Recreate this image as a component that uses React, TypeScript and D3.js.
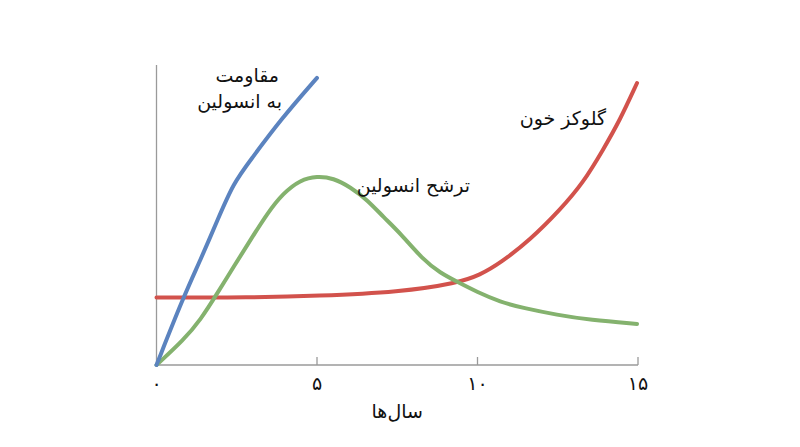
import { useEffect, useRef } from 'react';
import * as d3 from 'd3';

// years on x, arbitrary level 0..100 on y
const resistanceYears = [0, 0.84, 1.37, 1.9, 2.4, 2.93, 3.86, 5.0];
const resistanceValues = [0, 22.7, 35, 48.3, 60.7, 68.3, 81.7, 95.7];

const secretionYears = [0, 0.84, 1.37, 1.9, 2.4, 2.93, 3.46, 3.95, 4.48, 5.0, 5.51, 6.04, 6.57, 7.07, 7.59, 8.31, 8.84, 9.37, 9.99, 10.71, 11.42, 12.48, 13.51, 14.97];
const secretionValues = [0, 8.3, 15, 24, 32.7, 41.7, 50.7, 57.3, 61.7, 63, 62.3, 59.3, 55, 49.3, 44, 35, 30.7, 27.7, 24.3, 21, 19, 16.7, 15, 13.7];

const glucoseYears = [0, 2.93, 5.0, 7.59, 9.37, 10.08, 10.71, 11.64, 12.57, 13.29, 13.91, 14.44, 14.97];
const glucoseValues = [22.5, 22.5, 23, 24.3, 27.3, 30, 34, 41.7, 51.7, 60.7, 71.7, 81.7, 94];

const xTicks = [0, 5, 10, 15];
const xTickLabels = ['۰', '۵', '۱۰', '۱۵'];
const xTitle = 'سال‌ها';

const seriesLabels = {
  resistance: ['مقاومت', 'به انسولین'],
  secretion: 'ترشح انسولین',
  glucose: 'گلوکز خون',
};

const FONT = '"DejaVu Sans", sans-serif';

export default function App() {
  const svgRef = useRef<SVGSVGElement | null>(null);

  useEffect(() => {
    if (!svgRef.current) return;
    const svg = d3.select(svgRef.current);
    svg.selectAll('*').remove();

    const width = 800;
    const height = 447;

    const x = d3.scaleLinear().domain([0, 15]).range([156.5, 638]);
    const y = d3.scaleLinear().domain([0, 100]).range([365, 65]);

    svg.append('rect').attr('width', width).attr('height', height).attr('fill', '#fff');

    // axes
    const axisColor = '#9a9a9a';
    svg.append('line')
      .attr('x1', x(0)).attr('x2', x(0))
      .attr('y1', y(100)).attr('y2', y(0))
      .attr('stroke', axisColor).attr('stroke-width', 1.3);
    svg.append('line')
      .attr('x1', x(0)).attr('x2', x(15))
      .attr('y1', y(0)).attr('y2', y(0))
      .attr('stroke', axisColor).attr('stroke-width', 1.3);

    svg.append('g')
      .selectAll('line')
      .data(xTicks.slice(1))
      .join('line')
      .attr('x1', (d) => x(d)).attr('x2', (d) => x(d))
      .attr('y1', y(0) - 8).attr('y2', y(0))
      .attr('stroke', axisColor).attr('stroke-width', 1.3);

    svg.append('g')
      .selectAll('text')
      .data(xTicks)
      .join('text')
      .attr('x', (d) => x(d))
      .attr('y', 390)
      .attr('text-anchor', 'middle')
      .attr('font-family', FONT)
      .attr('font-size', 19)
      .attr('fill', '#111')
      .text((d, i) => xTickLabels[i]);

    svg.append('text')
      .attr('x', (x(0) + x(15)) / 2)
      .attr('y', 418)
      .attr('text-anchor', 'middle')
      .attr('font-family', FONT)
      .attr('font-size', 19)
      .attr('fill', '#111')
      .text(xTitle);

    // series
    const line = d3.line<[number, number]>()
      .x((d) => x(d[0]))
      .y((d) => y(d[1]))
      .curve(d3.curveBasis);

    const series = [
      { years: glucoseYears, values: glucoseValues, color: '#d2524c' },
      { years: secretionYears, values: secretionValues, color: '#84b26e' },
      { years: resistanceYears, values: resistanceValues, color: '#5b83bf' },
    ];

    series.forEach((s) => {
      const pts = s.years.map((yr, i) => [yr, s.values[i]] as [number, number]);
      svg.append('path')
        .attr('d', line(pts))
        .attr('fill', 'none')
        .attr('stroke', s.color)
        .attr('stroke-width', 4)
        .attr('stroke-linecap', 'round')
        .attr('stroke-linejoin', 'round');
    });

    // labels (right edge anchored)
    const label = (text: string, lx: number, ly: number) =>
      svg.append('text')
        .attr('x', lx)
        .attr('y', ly)
        .attr('text-anchor', 'end')
        .attr('font-family', FONT)
        .attr('font-size', 19)
        .attr('fill', '#111')
        .text(text);

    label(seriesLabels.resistance[0], 279, 82);
    label(seriesLabels.resistance[1], 282, 108);
    label(seriesLabels.secretion, 470, 192);
    label(seriesLabels.glucose, 606, 125);
  }, []);

  return (
    <svg
      ref={svgRef}
      width={800}
      height={447}
      style={{ position: 'absolute', top: 0, left: 0, display: 'block' }}
    />
  );
}
